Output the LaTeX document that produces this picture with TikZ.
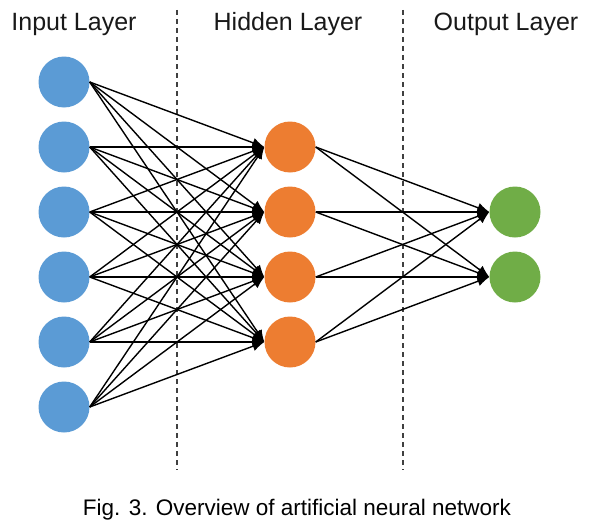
\documentclass[tikz,border=0pt]{standalone}
\usepackage{fontspec}
\setmainfont{Liberation Sans}
\usetikzlibrary{arrows.meta}
\definecolor{inblue}{HTML}{5B9BD5}
\definecolor{hidorange}{HTML}{ED7D31}
\definecolor{outgreen}{HTML}{70AD47}
\begin{document}
\begin{tikzpicture}[x=1pt,y=-1pt,>={Latex[length=12pt,width=10pt]},line join=round,
	neuron/.style={circle,minimum size=51pt,inner sep=0pt},
	link/.style={->,line width=1.4pt},
	sep/.style={line width=1.3pt,black!75,dash pattern=on 5pt off 4pt},
	title/.style={font=\fontsize{25}{29}\selectfont,text=black!90}]
	\useasboundingbox (0,0) rectangle (596,527);
	\path
	(177,10) coordinate (S1)
	(177,470) coordinate (S1')
	(403,10) coordinate (S2)
	(403,470) coordinate (S2')
	;
	\draw[sep] (S1)--(S1') (S2)--(S2');
	% layers
	\foreach \i in {1,...,6}
		\node[neuron,fill=inblue] (I\i) at (64,17+65*\i) {};
	\foreach \j in {1,...,4}
		\node[neuron,fill=hidorange] (H\j) at (290,82+65*\j) {};
	\foreach \k in {1,2}
		\node[neuron,fill=outgreen] (O\k) at (515,147+65*\k) {};
	% connections
	\foreach \i in {1,...,6}
		\foreach \j in {1,...,4}
			\draw[link] (I\i.east)--(H\j.west);
	\foreach \j in {1,...,4}
		\foreach \k in {1,2}
			\draw[link] (H\j.east)--(O\k.west);
	% labels
	\node[title] (tin) at (74,24) {Input Layer};
	\node[title] (thid) at (288,24) {Hidden Layer};
	\node[title] (tout) at (506,24) {Output Layer};
	\node[font=\fontsize{22.5}{26}\selectfont] (cap) at (297,510) {Fig. 3. Overview of artificial neural network};
\end{tikzpicture}
\end{document}
